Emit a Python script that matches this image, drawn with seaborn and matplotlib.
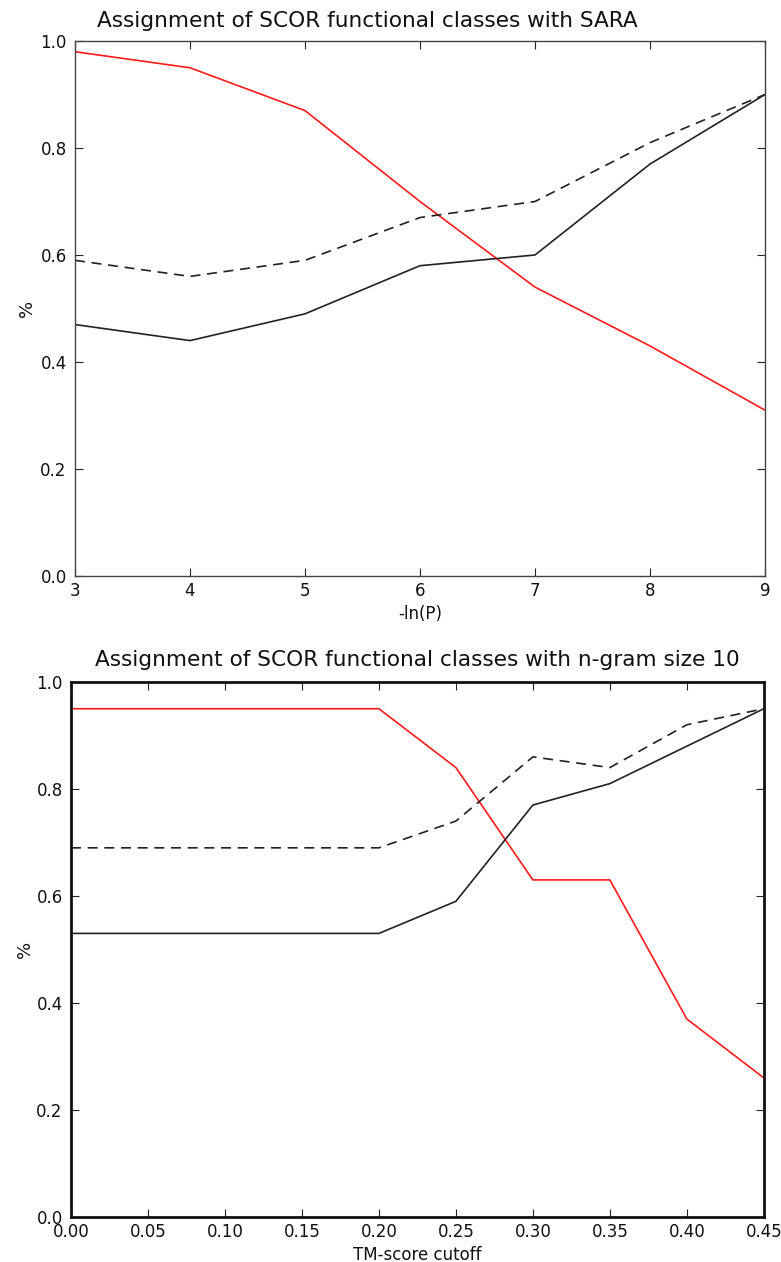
import numpy as np
import pandas as pd
import matplotlib
matplotlib.use("Agg")
import matplotlib.pyplot as plt
import seaborn as sns

# Top panel data
lnp = [3, 4, 5, 6, 7, 8, 9]
sara_red = [0.98, 0.95, 0.87, 0.70, 0.54, 0.43, 0.31]
sara_solid = [0.47, 0.44, 0.49, 0.58, 0.60, 0.77, 0.90]
sara_dashed = [0.59, 0.56, 0.59, 0.67, 0.70, 0.81, 0.90]

# Bottom panel data
tm_cutoff = [0.00, 0.05, 0.10, 0.15, 0.20, 0.25, 0.30, 0.35, 0.40, 0.45]
ngram_red = [0.95, 0.95, 0.95, 0.95, 0.95, 0.84, 0.63, 0.63, 0.37, 0.26]
ngram_solid = [0.53, 0.53, 0.53, 0.53, 0.53, 0.59, 0.77, 0.81, 0.88, 0.95]
ngram_dashed = [0.69, 0.69, 0.69, 0.69, 0.69, 0.74, 0.86, 0.84, 0.92, 0.95]

sns.set_theme(style="white")
plt.rcParams['font.family'] = ['DejaVu Sans']
plt.rcParams['text.color'] = '#111111'
plt.rcParams['axes.labelcolor'] = '#111111'

fig = plt.figure(figsize=(7.81, 12.62), dpi=100)
ax1 = fig.add_axes([0.096, 0.5436, 0.8835, 0.4239])
ax2 = fig.add_axes([0.0909, 0.0357, 0.8871, 0.4239])

def draw(ax, x, red, solid, dashed, ylabelpad):
    sns.lineplot(x=x, y=red, ax=ax, color="#ff1a1a", linewidth=1.2)
    sns.lineplot(x=x, y=solid, ax=ax, color="#222222", linewidth=1.2)
    sns.lineplot(x=x, y=dashed, ax=ax, color="#222222", linewidth=1.2)
    ax.lines[-1].set_linestyle((0, (6, 4)))
    ax.set_ylim(0, 1.0)
    ax.set_yticks([0.0, 0.2, 0.4, 0.6, 0.8, 1.0])
    ax.set_yticklabels(["0.0", "0.2", "0.4", "0.6", "0.8", "1.0"])
    ax.tick_params(direction="in", length=6, width=0.8, top=True, right=True,
                   bottom=True, left=True, labelsize=12, colors="#222222",
                   labelcolor="#111111")
    ax.tick_params(axis="x", pad=4)
    ax.tick_params(axis="y", pad=6)
    ax.set_ylabel("%", fontsize=13, labelpad=ylabelpad)

draw(ax1, lnp, sara_red, sara_solid, sara_dashed, 3)
ax1.set_xlim(3, 9)
ax1.set_xticks(lnp)
ax1.set_xlabel("-ln(P)", fontsize=12, labelpad=4)
ax1.text(0.032, 1.026, "Assignment of SCOR functional classes with SARA",
         transform=ax1.transAxes, ha="left", va="baseline", fontsize=15.6)
for s in ax1.spines.values():
    s.set_color("#444444")
    s.set_linewidth(1.0)

draw(ax2, tm_cutoff, ngram_red, ngram_solid, ngram_dashed, 2)
ax2.set_xlim(0, 0.45)
ax2.set_xticks(tm_cutoff)
ax2.set_xticklabels([f"{v:.2f}" for v in tm_cutoff])
ax2.set_xlabel("TM-score cutoff", fontsize=12, labelpad=4)
ax2.set_title("Assignment of SCOR functional classes with n-gram size 10",
              fontsize=15.6, pad=11.5)
for s in ax2.spines.values():
    s.set_color("#111111")
    s.set_linewidth(2.0)

fig.savefig("out.png", dpi=100)
